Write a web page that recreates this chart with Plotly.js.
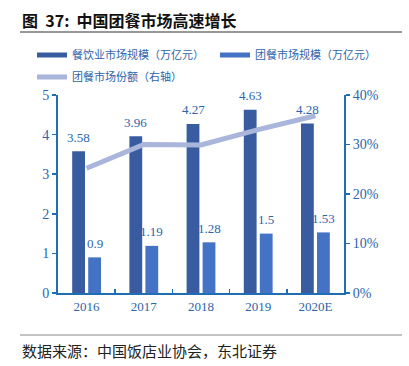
<!DOCTYPE html>
<html><head><meta charset="utf-8">
<script src="https://cdn.plot.ly/plotly-3.0.1.min.js"></script>
<style>body{margin:0;padding:0;background:#fff}#c{width:409px;height:366px}</style>
</head><body><div id="c"></div>
<script>
const years = ['2016','2017','2018','2019','2020E'];
const cateringMarket = [3.58, 3.96, 4.27, 4.63, 4.28];
const groupMealMarket = [0.9, 1.19, 1.28, 1.5, 1.53];
const groupMealShare = [0.252, 0.300, 0.299, 0.330, 0.358];
const names = ['餐饮业市场规模（万亿元）','团餐市场规模（万亿元）','团餐市场份额（右轴）'];
const leftTicks = [0,1,2,3,4,5];
const rightTicks = [0,0.1,0.2,0.3,0.4];

const cDark = '#385C9F', cLight = '#4472C4', cLine = '#A9B5DB';
const axisC = '#1F6DB5', txtC = '#2E64AA';
const serif = 'Liberation Serif, Times New Roman, serif';
const cjk = 'Noto Sans CJK SC, sans-serif';
const px = v => (v-58)/286;
const py = v => (293-v)/198;

const traces = [
  {type:'bar', x:years, y:cateringMarket, marker:{color:cDark}, showlegend:false},
  {type:'bar', x:years, y:groupMealMarket, marker:{color:cLight}, showlegend:false},
  {type:'scatter', mode:'lines', x:years, y:groupMealShare, yaxis:'y2', showlegend:false,
   line:{color:cLine, width:5}},
  {type:'scatter', mode:'lines', x:[null], y:[null], name:names[0], legend:'legend', line:{color:cDark, width:5}},
  {type:'scatter', mode:'lines', x:[null], y:[null], name:names[1], legend:'legend2', line:{color:cLight, width:5}},
  {type:'scatter', mode:'lines', x:[null], y:[null], name:names[2], legend:'legend3', line:{color:cLine, width:5}}
];

const legBase = {xanchor:'left', yanchor:'middle', bgcolor:'rgba(0,0,0,0)',
  font:{family:cjk, size:11, color:txtC}, itemwidth:30};

const valueLabels = [];
years.forEach((yr, i) => {
  valueLabels.push({x:i, y:cateringMarket[i], xref:'x', yref:'y', xshift:-8, yshift:14,
    text:String(cateringMarket[i]), showarrow:false, yanchor:'middle',
    font:{family:serif, size:13, color:txtC}});
  valueLabels.push({x:i, y:groupMealMarket[i], xref:'x', yref:'y', xshift:8, yshift:14,
    text:String(groupMealMarket[i]), showarrow:false, yanchor:'middle',
    font:{family:serif, size:13, color:txtC}});
});

const layout = {
  width:409, height:366,
  margin:{l:58, r:65, t:95, b:73},
  paper_bgcolor:'#fff', plot_bgcolor:'#fff',
  barmode:'group', bargap:0.44, bargroupgap:0.2,
  showlegend:true,
  legend:Object.assign({x:px(32), y:py(55)}, legBase),
  legend2:Object.assign({x:px(215), y:py(55)}, legBase),
  legend3:Object.assign({x:px(32), y:py(77)}, legBase),
  xaxis:{type:'category', showline:true, linecolor:axisC, linewidth:2, ticks:'inside',
    tickson:'boundaries', ticklen:4, tickcolor:axisC, tickwidth:1.5, tickangle:0,
    tickfont:{family:serif, size:13, color:txtC}, showgrid:false, fixedrange:true},
  yaxis:{range:[0,5], tickmode:'array', tickvals:leftTicks, ticktext:leftTicks.map(String),
    showline:true, linecolor:axisC, linewidth:2, ticks:'outside',
    ticklen:4, tickcolor:axisC, tickwidth:1.5, showgrid:false, zeroline:false,
    tickfont:{family:serif, size:14, color:txtC}},
  yaxis2:{range:[0,0.4], tickmode:'array', tickvals:rightTicks, ticktext:rightTicks.map(v=>Math.round(v*100)+'%'),
    overlaying:'y', side:'right',
    showline:true, linecolor:axisC, linewidth:2, ticks:'outside', ticklen:4, tickcolor:axisC,
    tickwidth:1.5, showgrid:false, zeroline:false, tickfont:{family:serif, size:14, color:txtC}},
  annotations:[
    {xref:'paper', yref:'paper', x:px(20), y:py(20), xanchor:'left', yanchor:'middle',
     showarrow:false, text:'<b>图&nbsp;&nbsp;37:&nbsp;&nbsp;中国团餐市场高速增长</b>', font:{family:cjk, size:16, color:'#111'}},
    {xref:'paper', yref:'paper', x:px(20), y:py(350), xanchor:'left', yanchor:'middle',
     showarrow:false, text:'数据来源：中国饭店业协会，东北证券', font:{family:cjk, size:15, color:'#222'}}
  ].concat(valueLabels),
  shapes:[
    {type:'line', xref:'paper', yref:'paper', x0:px(20), x1:px(402), y0:py(32), y1:py(32), line:{color:'#333', width:1.2}},
    {type:'line', xref:'paper', yref:'paper', x0:px(20), x1:px(402), y0:py(335), y1:py(335), line:{color:'#888', width:1}}
  ]
};
Plotly.newPlot('c', traces, layout, {displayModeBar:false, staticPlot:true});
</script></body></html>
